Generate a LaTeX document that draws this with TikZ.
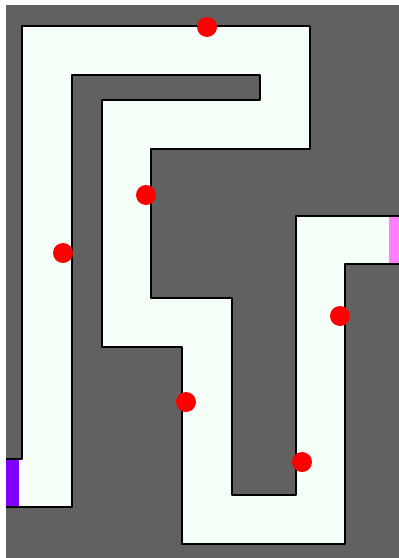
\documentclass[tikz,border=0pt]{standalone}
\usepackage{tikz}
\usetikzlibrary{arrows.meta, positioning}
\definecolor{wall}{HTML}{616161}
\definecolor{floor}{HTML}{F5FFF7}
\definecolor{start}{HTML}{8000FF}
\definecolor{goal}{HTML}{FF80FF}
\definecolor{coin}{HTML}{FF0000}

\begin{document}
\begin{tikzpicture}[x=0.02cm, y=-0.02cm,
    edge/.style={draw=black, line width=1.1pt, line join=round}]
  \useasboundingbox (0,0) rectangle (399,558);
  % Maze: walls, corridor, start and goal
  \fill[wall] (6,5) rectangle (399,558);
  \fill[floor] (22,26) -- (310,26) -- (310,149) -- (151,149) -- (151,298)
    -- (232,298) -- (232,495) -- (296,495) -- (296,216) -- (399,216)
    -- (399,264) -- (345,264) -- (345,544) -- (182,544) -- (182,347)
    -- (102,347) -- (102,100) -- (260,100) -- (260,75) -- (72,75)
    -- (72,507) -- (6,507) -- (6,459) -- (22,459) -- cycle;
  \fill[start] (6,459) rectangle (19,507);
  \fill[goal] (389,216) rectangle (399,264);
  \draw[edge] (6,459) -- (22,459) -- (22,26) -- (310,26) -- (310,149)
    -- (151,149) -- (151,298) -- (232,298) -- (232,495) -- (296,495)
    -- (296,216) -- (399,216);
  \draw[edge] (399,264) -- (345,264) -- (345,544) -- (182,544)
    -- (182,347) -- (102,347) -- (102,100) -- (260,100) -- (260,75)
    -- (72,75) -- (72,507) -- (6,507);
  % coins along the corridor
  \foreach \x/\y in {207/27, 146/195, 63/253, 340/316, 186/402, 302/462}
    \fill[coin] (\x,\y) circle[radius=10];
\end{tikzpicture}
\end{document}
